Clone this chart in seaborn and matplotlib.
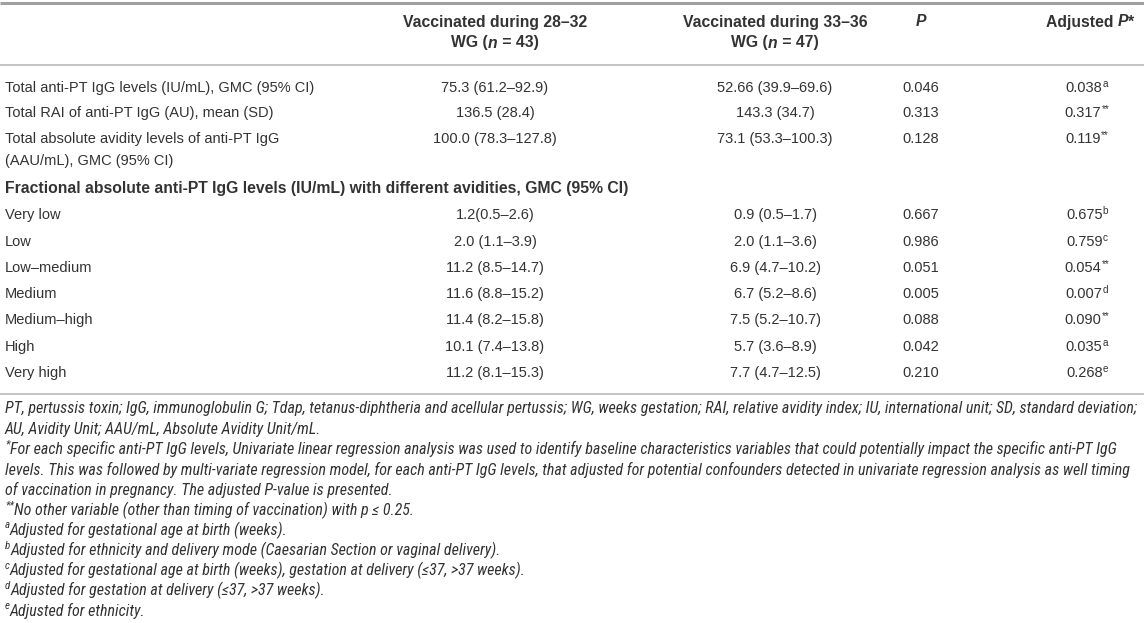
import matplotlib
matplotlib.use("Agg")
import matplotlib.pyplot as plt
import seaborn as sns
from matplotlib import font_manager
from matplotlib.font_manager import FontProperties

sns.set_theme(style="white")
plt.rcParams['font.family'] = ['Liberation Sans', 'DejaVu Sans']

# ---------------- data ----------------
col_headers_1 = ["Vaccinated during 28–32", "Vaccinated during 33–36"]
col_n = ["43", "47"]
top_labels = ["Total anti-PT IgG levels (IU/mL), GMC (95% CI)",
              "Total RAI of anti-PT IgG (AU), mean (SD)",
              "Total absolute avidity levels of anti-PT IgG"]
top_label3_line2 = "(AAU/mL), GMC (95% CI)"
top_g1 = ["75.3 (61.2–92.9)", "136.5 (28.4)", "100.0 (78.3–127.8)"]
top_g2 = ["52.66 (39.9–69.6)", "143.3 (34.7)", "73.1 (53.3–100.3)"]
top_p = ["0.046", "0.313", "0.128"]
top_adj = ["0.038", "0.317", "0.119"]
top_adj_sup = ["a", "**", "**"]

section_title = "Fractional absolute anti-PT IgG levels (IU/mL) with different avidities, GMC (95% CI)"
frac_labels = ["Very low", "Low", "Low–medium", "Medium", "Medium–high", "High", "Very high"]
frac_g1 = ["1.2(0.5–2.6)", "2.0 (1.1–3.9)", "11.2 (8.5–14.7)", "11.6 (8.8–15.2)",
           "11.4 (8.2–15.8)", "10.1 (7.4–13.8)", "11.2 (8.1–15.3)"]
frac_g2 = ["0.9 (0.5–1.7)", "2.0 (1.1–3.6)", "6.9 (4.7–10.2)", "6.7 (5.2–8.6)",
           "7.5 (5.2–10.7)", "5.7 (3.6–8.9)", "7.7 (4.7–12.5)"]
frac_p = ["0.667", "0.986", "0.051", "0.005", "0.088", "0.042", "0.210"]
frac_adj = ["0.675", "0.759", "0.054", "0.007", "0.090", "0.035", "0.268"]
frac_adj_sup = ["b", "c", "**", "d", "**", "a", "e"]

footnote_sup = ["", "", "*", "", "", "**", "a", "b", "c", "d", "e"]
footnotes = [
    "PT, pertussis toxin; IgG, immunoglobulin G; Tdap, tetanus-diphtheria and acellular pertussis; WG, weeks gestation; RAI, relative avidity index; IU, international unit; SD, standard deviation;",
    "AU, Avidity Unit; AAU/mL, Absolute Avidity Unit/mL.",
    "For each specific anti-PT IgG levels, Univariate linear regression analysis was used to identify baseline characteristics variables that could potentially impact the specific anti-PT IgG",
    "levels. This was followed by multi-variate regression model, for each anti-PT IgG levels, that adjusted for potential confounders detected in univariate regression analysis as well timing",
    "of vaccination in pregnancy. The adjusted P-value is presented.",
    "No other variable (other than timing of vaccination) with p ≤ 0.25.",
    "Adjusted for gestational age at birth (weeks).",
    "Adjusted for ethnicity and delivery mode (Caesarian Section or vaginal delivery).",
    "Adjusted for gestational age at birth (weeks), gestation at delivery (≤37, >37 weeks).",
    "Adjusted for gestation at delivery (≤37, >37 weeks).",
    "Adjusted for ethnicity.",
]

# ---------------- figure ----------------
W, H = 1144, 623
fig = plt.figure(figsize=(W / 100, H / 100), dpi=100)
fig.patch.set_facecolor("white")
ax = fig.add_axes([0, 0, 1, 1])
ax.set_xlim(0, W)
ax.set_ylim(H, 0)
ax.axis("off")
fig.canvas.draw()
renderer = fig.canvas.get_renderer()

TXT = "#333333"


def find_condensed_italic():
    """Pick an installed narrow/condensed italic face for the footnotes."""
    prefs = ["Liberation Sans Narrow", "Roboto Condensed", "Open Sans Condensed",
             "Noto Sans", "Roboto", "Liberation Sans"]
    cands = []
    for f in font_manager.fontManager.ttflist:
        if f.style not in ("italic", "oblique"):
            continue
        if f.weight not in (400, "normal", "regular", 300, "light"):
            continue
        narrow = (("Narrow" in f.name) or ("Condensed" in f.name)
                  or f.stretch in ("condensed", "semi-condensed")
                  or "Condensed" in f.fname or "Narrow" in f.fname)
        if narrow and "Extra" not in f.fname and "Semi" not in f.fname:
            cands.append(f)
    for p in prefs:
        for f in cands:
            if f.name == p:
                return f.fname
    return None


cond_path = find_condensed_italic()


def make_fp(size, weight="normal", style="normal", family="Liberation Sans", fname=None):
    if fname:
        return FontProperties(fname=fname, size=size)
    return FontProperties(family=family, size=size, weight=weight, style=style)


def width_fp(s, fp):
    t = ax.text(0, 0, s, fontproperties=fp)
    w = t.get_window_extent(renderer).width
    t.remove()
    return w


def fit_size(s, target, **kw):
    w = width_fp(s, make_fp(10, **kw))
    return 10 * target / w


FOOT_KW = dict(fname=cond_path) if cond_path else dict(style="italic")
BODY = fit_size(top_labels[1], 268)
BOLD = fit_size(section_title, 620, weight="bold")
FOOT = fit_size(footnotes[0], 1132, **FOOT_KW)


def rich(x, y, segs, ha="left", size=BODY):
    """segs: list of (text, options)"""
    parts = []
    total = 0
    for txt, opt in segs:
        opt = dict(opt)
        sup = opt.pop("sup", False)
        fs = size * (0.68 if sup else 1.0)
        fp = make_fp(fs, **opt)
        w = width_fp(txt, fp)
        parts.append((txt, fp, sup, w))
        total += w
    if ha == "center":
        x0 = x - total / 2
    elif ha == "right":
        x0 = x - total
    else:
        x0 = x
    for txt, fp, sup, w in parts:
        yy = y - size * 0.42 if sup else y
        ax.text(x0, yy, txt, ha="left", va="center", color=TXT, fontproperties=fp)
        x0 += w


X0 = 5
C1, C2, C3, C4 = 495, 775, 921, 1090

# rules
ax.hlines(3, 0, W, color="#a0a0a0", lw=2.2)
ax.hlines(65, 0, W, color="#b4b4b4", lw=1.1)
ax.hlines(394, 0, W, color="#b4b4b4", lw=1.1)

# header
B = dict(weight="bold")
BI = dict(weight="bold", style="italic")
for cx, h1, n in zip([C1, C2], col_headers_1, col_n):
    rich(cx, 22, [(h1, B)], ha="center", size=BOLD)
    rich(cx, 43, [("WG (", B), ("n", BI), (" = " + n + ")", B)], ha="center", size=BOLD)
rich(C3, 22, [("P", BI)], ha="center", size=BOLD)
rich(C4, 22, [("Adjusted ", B), ("P", BI), ("*", B)], ha="center", size=BOLD)

# top rows
top_y = [88, 113, 139]
for i, y in enumerate(top_y):
    rich(X0, y, [(top_labels[i], {})])
    rich(C1, y, [(top_g1[i], {})], ha="center")
    rich(C2, y, [(top_g2[i], {})], ha="center")
    rich(C3, y, [(top_p[i], {})], ha="center")
    rich(C4 - 3, y, [(top_adj[i], {}), (top_adj_sup[i], {"sup": True})], ha="center")
rich(X0, 161, [(top_label3_line2, {})])

# section
rich(X0, 188, [(section_title, B)], size=BOLD)
frac_y = [215, 242, 268, 294, 320, 347, 373]
for i, y in enumerate(frac_y):
    rich(X0, y, [(frac_labels[i], {})])
    rich(C1, y, [(frac_g1[i], {})], ha="center")
    rich(C2, y, [(frac_g2[i], {})], ha="center")
    rich(C3, y, [(frac_p[i], {})], ha="center")
    rich(C4 - 3, y, [(frac_adj[i], {}), (frac_adj_sup[i], {"sup": True})], ha="center")

# footnotes
foot_y = [409 + 20.2 * i for i in range(len(footnotes))]
for y, sup, txt in zip(foot_y, footnote_sup, footnotes):
    segs = []
    if sup:
        segs.append((sup, dict(FOOT_KW, sup=True)))
    segs.append((txt, FOOT_KW))
    rich(X0, y, segs, size=FOOT)

fig.savefig("out.png", dpi=100, facecolor="white")
